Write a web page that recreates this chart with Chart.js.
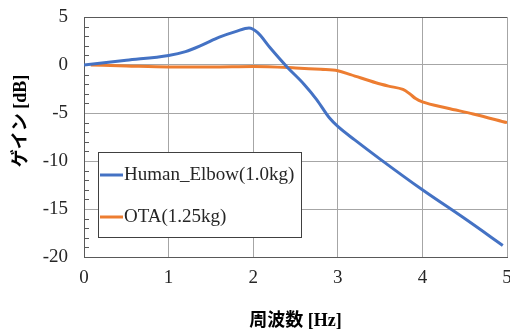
<!DOCTYPE html>
<html>
<head>
<meta charset="utf-8">
<script src="https://cdn.jsdelivr.net/npm/chart.js@4"></script>
<style>
  html, body { margin: 0; padding: 0; background: #fff; }
  #wrap { width: 510px; height: 333px; }
</style>
</head>
<body>
<div id="wrap"><canvas id="chart" width="510" height="333"></canvas></div>
<script>
// frequency [Hz] / gain [dB]
const elbowFreq = [0, 0.5, 1.0, 1.2, 1.4, 1.6, 1.8, 1.95, 2.05, 2.2, 2.4, 2.6, 2.75, 2.9, 3.0, 3.2, 3.5, 4.0, 4.5, 4.95];
const elbowGain = [0, 0.5, 1.0, 1.4, 2.1, 2.9, 3.5, 3.85, 3.4, 1.8, -0.2, -2.0, -3.6, -5.5, -6.4, -7.8, -9.8, -13.0, -16.0, -18.8];

const otaFreq = [0.08, 0.5, 1.0, 1.5, 2.0, 2.5, 2.8, 3.0, 3.15, 3.45, 3.6, 3.77, 3.85, 3.92, 4.0, 4.3, 4.6, 5.0];
const otaGain = [0, -0.1, -0.2, -0.2, -0.15, -0.3, -0.45, -0.6, -1.0, -1.85, -2.2, -2.55, -3.0, -3.5, -3.85, -4.5, -5.1, -6.0];

const seriesLabels = ["Human_Elbow(1.0kg)", "OTA(1.25kg)"];
const seriesColors = ["#4472C4", "#ED7D31"];

const xTitle = "周波数 [Hz]";
const yTitle = "ゲイン [dB]";

const serif = "'Liberation Serif', 'Times New Roman', 'Noto Sans CJK JP', serif";

const toPoints = (xs, ys) => xs.map((x, i) => ({ x, y: ys[i] }));

// frame, inward minor ticks on the y axis, y title (sits above centre), legend box
const decorations = {
    id: "decorations",
    afterDraw(chart) {
        const { ctx, chartArea: a, scales } = chart;
        ctx.save();
        ctx.strokeStyle = "#595959";
        ctx.lineWidth = 1;
        ctx.beginPath();
        ctx.moveTo(a.left, a.top + 0.5);
        ctx.lineTo(a.right, a.top + 0.5);
        for (let v = scales.y.min; v <= scales.y.max; v++) {
            if (v % 5 === 0) continue;
            const py = Math.round(scales.y.getPixelForValue(v)) + 0.5;
            ctx.moveTo(a.left, py);
            ctx.lineTo(a.left + 5, py);
        }
        ctx.stroke();

        ctx.save();
        ctx.translate(21, (a.top + a.bottom) / 2 - 16);
        ctx.rotate(-Math.PI / 2);
        ctx.font = `bold 18px ${serif}`;
        ctx.fillStyle = "#000";
        ctx.textAlign = "center";
        ctx.textBaseline = "middle";
        ctx.fillText(yTitle, 0, 0);
        ctx.restore();

        const bx = a.left + 14, by = a.top + 135, bw = 203, bh = 85;
        ctx.fillStyle = "#fff";
        ctx.fillRect(bx, by, bw, bh);
        ctx.strokeStyle = "#404040";
        ctx.strokeRect(bx + 0.5, by + 0.5, bw, bh);

        ctx.font = `19px ${serif}`;
        ctx.textBaseline = "middle";
        ctx.textAlign = "left";
        chart.data.datasets.forEach((ds, i) => {
            const ly = by + 23 + i * 42;
            ctx.strokeStyle = ds.borderColor;
            ctx.lineWidth = 3;
            ctx.beginPath();
            ctx.moveTo(bx + 2, ly);
            ctx.lineTo(bx + 25, ly);
            ctx.stroke();
            ctx.fillStyle = "#262626";
            ctx.fillText(ds.label, bx + 26, ly);
        });
        ctx.restore();
    }
};

new Chart(document.getElementById("chart"), {
    type: "line",
    data: {
        datasets: [
            {
                label: seriesLabels[0],
                data: toPoints(elbowFreq, elbowGain),
                borderColor: seriesColors[0],
                borderWidth: 3,
                pointRadius: 0,
                cubicInterpolationMode: "monotone"
            },
            {
                label: seriesLabels[1],
                data: toPoints(otaFreq, otaGain),
                borderColor: seriesColors[1],
                borderWidth: 3,
                pointRadius: 0,
                cubicInterpolationMode: "monotone"
            }
        ]
    },
    options: {
        responsive: false,
        animation: false,
        layout: { padding: { top: 17, right: 3, left: 0, bottom: 0 } },
        plugins: { legend: { display: false }, tooltip: { enabled: false } },
        scales: {
            x: {
                type: "linear",
                min: 0,
                max: 5,
                ticks: { stepSize: 1, padding: 10, color: "#262626", font: { family: serif, size: 19 } },
                grid: { color: "#a6a6a6", drawTicks: false },
                border: { color: "#595959" },
                title: {
                    display: true,
                    text: xTitle,
                    color: "#000",
                    font: { family: serif, size: 18, weight: "bold" },
                    padding: { top: 0, bottom: 1 }
                },
                afterFit(scale) {
                    scale.height = 76;
                    scale.paddingLeft = 0;
                    scale.paddingRight = 0;
                }
            },
            y: {
                min: -20,
                max: 5,
                ticks: { stepSize: 5, padding: 16, color: "#262626", font: { family: serif, size: 19 } },
                grid: { color: "#a6a6a6", drawTicks: false },
                border: { color: "#595959" },
                afterFit(scale) {
                    scale.width = 84;
                    scale.paddingTop = 0;
                    scale.paddingBottom = 0;
                }
            }
        }
    },
    plugins: [decorations]
});
</script>
</body>
</html>
